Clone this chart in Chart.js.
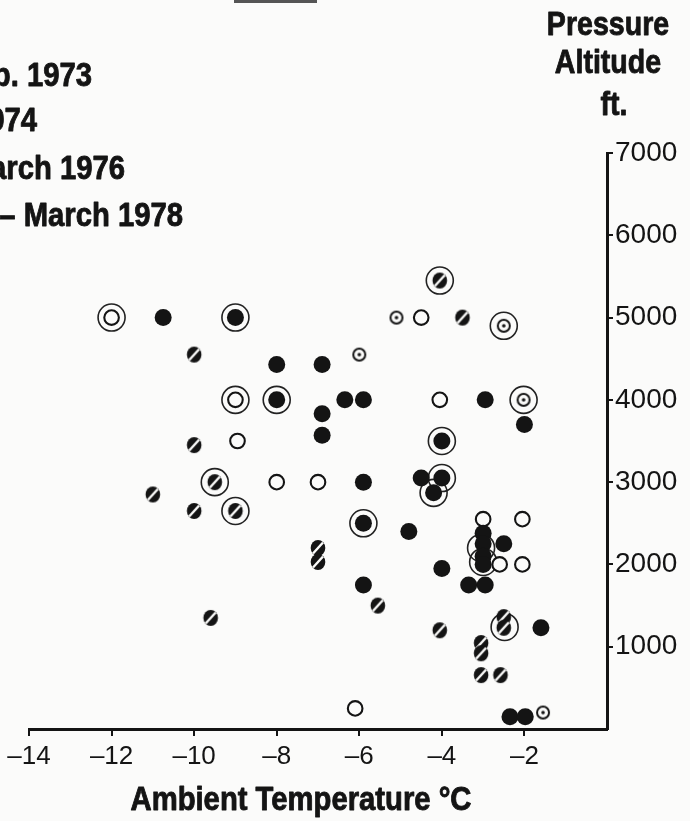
<!DOCTYPE html>
<html>
<head>
<meta charset="utf-8">
<script src="https://cdn.jsdelivr.net/npm/chart.js@4.4.1/dist/chart.umd.min.js"></script>
<style>
  html, body { margin: 0; padding: 0; background: #fbfbfa; }
  #wrap { width: 690px; height: 821px; }
</style>
</head>
<body>
<div id="wrap"><canvas id="chart" width="690" height="821"></canvas></div>
<script>
// ---- data (temperature in deg C, pressure altitude in ft) ----
const xTicks = [-14, -12, -10, -8, -6, -4, -2];
const yTicks = [1000, 2000, 3000, 4000, 5000, 6000, 7000];

const openTemp = [-12, -9, -8.95, -8, -7, -4.5, -4.05, -3, -2.05, -2.6, -2.05, -6.1];
const openAlt  = [5000, 4000, 3500, 3000, 3000, 5000, 4000, 2550, 2550, 2000, 2000, 250];

const filledTemp = [-10.75, -9, -8, -6.9, -8, -6.35, -5.9, -6.9, -6.9, -2.95, -2, -4, -5.9, -4.5, -4,
  -4.2, -5.9, -4.8, -3, -3, -3, -3, -2.5, -4, -3.35, -2.95, -5.9, -1.6, -2.35, -1.98];
const filledAlt  = [5000, 5000, 4430, 4430, 4000, 4000, 4000, 3830, 3570, 4000, 3700, 3500, 3000, 3050, 3050,
  2870, 2500, 2400, 2380, 2250, 2100, 2000, 2250, 1950, 1750, 1750, 1750, 1230, 150, 150];

const hatchedTemp = [-10, -10, -9.5, -11, -10, -9, -7, -7, -9.6, -4.05, -3.5, -5.55, -4.05,
  -2.5, -2.5, -3.05, -3.05, -3.05, -2.58];
const hatchedAlt  = [4550, 3450, 3000, 2850, 2650, 2650, 2200, 2030, 1350, 5450, 5000, 1500, 1200,
  1360, 1230, 1045, 920, 655, 655];

const dottedTemp = [-5.1, -6, -2.5, -2.02, -1.55];
const dottedAlt  = [5000, 4550, 4900, 4000, 200];

// outer rings drawn around some of the points above
const ringTemp = [-12, -9, -9, -8, -9.5, -9, -4.05, -2.5, -2.02, -4, -4, -4.2, -5.9, -3.05, -3, -2.48];
const ringAlt  = [5000, 5000, 4000, 4000, 3000, 2650, 5450, 4900, 4000, 3500, 3050, 2870, 2500, 2200, 2030, 1240];

function toPoints(xs, ys) {
  return xs.map((x, i) => ({ x: x, y: ys[i] }));
}

// ---- marker images ----
const INK = '#141414';
const PAPER = '#fbfbfa';

function hatchedMarker() {
  const c = document.createElement('canvas');
  c.width = 18; c.height = 18;
  const g = c.getContext('2d');
  g.translate(9, 9);
  g.fillStyle = INK;
  g.beginPath();
  g.ellipse(0, 0, 7.3, 8, 0, 0, Math.PI * 2);
  g.fill();
  g.strokeStyle = PAPER;
  g.lineWidth = 2.4;
  g.beginPath();
  g.moveTo(-5, 5.5);
  g.lineTo(5, -5.5);
  g.stroke();
  return c;
}

function dottedMarker() {
  const c = document.createElement('canvas');
  c.width = 16; c.height = 16;
  const g = c.getContext('2d');
  g.translate(8, 8);
  g.fillStyle = PAPER;
  g.strokeStyle = INK;
  g.lineWidth = 2;
  g.beginPath();
  g.arc(0, 0, 6, 0, Math.PI * 2);
  g.fill();
  g.stroke();
  g.fillStyle = INK;
  g.beginPath();
  g.arc(0, 0, 1.8, 0, Math.PI * 2);
  g.fill();
  return c;
}

// heavy text squeezed sideways, to look like a bold condensed face
function narrowText(ctx, text, x, y, size, align, squeeze) {
  ctx.save();
  ctx.font = 'bold ' + size + "px 'Liberation Sans', Arial, sans-serif";
  ctx.textAlign = align;
  ctx.textBaseline = 'middle';
  ctx.fillStyle = INK;
  ctx.strokeStyle = INK;
  ctx.lineWidth = 0.9;
  ctx.lineJoin = 'round';
  ctx.translate(x, y);
  ctx.scale(squeeze || 0.84, 1);
  ctx.fillText(text, 0, 0);
  ctx.strokeText(text, 0, 0);
  ctx.restore();
}

// ---- text that sits outside the axes ----
const textPlugin = {
  id: 'sheetText',
  afterDraw(chart) {
    const ctx = chart.ctx;
    ctx.save();

    // partial key, cut off at the left edge of the scan
    narrowText(ctx, 'Feb. 1973', 92, 77, 34, 'right', 0.86);
    narrowText(ctx, '1974', 37, 122, 34, 'right', 0.86);
    narrowText(ctx, 'March 1976', 125, 170, 34, 'right', 0.86);
    narrowText(ctx, '1977 \u2013 March 1978', 183, 217, 34, 'right', 0.86);

    // y axis title
    narrowText(ctx, 'Pressure', 608, 26, 34, 'center', 0.84);
    narrowText(ctx, 'Altitude', 608, 64, 34, 'center', 0.84);
    narrowText(ctx, 'ft.', 614, 106, 34, 'center', 0.84);

    // x axis title
    narrowText(ctx, 'Ambient Temperature \u00B0C', 301, 801, 34, 'center', 0.86);

    // stub of a rule at the top of the scan
    ctx.fillStyle = '#555';
    ctx.fillRect(234, 0, 83, 3);
    ctx.restore();
  }
};

const ctx = document.getElementById('chart');

new Chart(ctx, {
  type: 'scatter',
  data: {
    datasets: [
      {
        label: 'rings',
        data: toPoints(ringTemp, ringAlt),
        pointStyle: 'circle',
        pointRadius: 13.5,
        pointBorderWidth: 1.6,
        pointBorderColor: '#222',
        pointBackgroundColor: 'rgba(0,0,0,0)',
        order: 5
      },
      {
        label: 'open',
        data: toPoints(openTemp, openAlt),
        pointStyle: 'circle',
        pointRadius: 7.3,
        pointBorderWidth: 2.1,
        pointBorderColor: INK,
        pointBackgroundColor: PAPER,
        order: 4
      },
      {
        label: 'filled',
        data: toPoints(filledTemp, filledAlt),
        pointStyle: 'circle',
        pointRadius: 8.5,
        pointBorderWidth: 0,
        pointBackgroundColor: INK,
        order: 3
      },
      {
        label: 'hatched',
        data: toPoints(hatchedTemp, hatchedAlt),
        pointStyle: hatchedMarker(),
        pointRadius: 8,
        order: 2
      },
      {
        label: 'dotted',
        data: toPoints(dottedTemp, dottedAlt),
        pointStyle: dottedMarker(),
        pointRadius: 7,
        order: 1
      }
    ]
  },
  options: {
    responsive: false,
    animation: false,
    devicePixelRatio: 1,
    layout: { padding: { left: 29, top: 153, right: 0, bottom: 0 } },
    plugins: {
      legend: { display: false },
      tooltip: { enabled: false }
    },
    scales: {
      x: {
        type: 'linear',
        position: 'bottom',
        min: -14,
        max: 0,
        afterBuildTicks: (scale) => { scale.ticks = xTicks.map(v => ({ value: v })); },
        afterFit: (scale) => { scale.height = 92; },
        grid: {
          drawOnChartArea: false,
          drawTicks: true,
          tickLength: 7,
          color: INK,
          lineWidth: 2
        },
        border: { display: true, color: INK, width: 3 },
        ticks: {
          color: INK,
          padding: 5,
          font: { family: "'Liberation Sans', Arial, sans-serif", size: 26 },
          callback: (v) => String(v).replace('-', '\u2013')
        }
      },
      y: {
        type: 'linear',
        position: 'right',
        min: 0,
        max: 7000,
        afterBuildTicks: (scale) => { scale.ticks = yTicks.map(v => ({ value: v })); },
        afterFit: (scale) => { scale.width = 83; },
        grid: {
          drawOnChartArea: false,
          drawTicks: true,
          tickLength: 6,
          color: INK,
          lineWidth: 2
        },
        border: { display: true, color: INK, width: 3 },
        ticks: {
          color: INK,
          padding: 2,
          font: { family: "'Liberation Sans', Arial, sans-serif", size: 28 },
          callback: (v) => String(v)
        }
      }
    }
  },
  plugins: [textPlugin]
});
</script>
</body>
</html>
